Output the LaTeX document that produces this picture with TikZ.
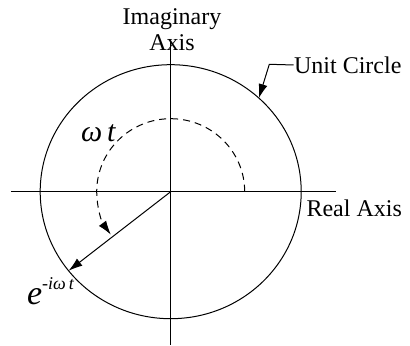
\documentclass[tikz,border=0pt]{standalone}
\usepackage{fontspec}
\setmainfont{Liberation Serif}
\usetikzlibrary{arrows.meta,positioning}

\begin{document}
\begin{tikzpicture}[x=0.5pt,y=0.5pt,
  axis/.style={line width=0.75pt,draw=black},
  unit/.style={line width=0.5pt,draw=black},
  lbl/.style={font=\fontsize{12}{13}\selectfont,align=center,inner sep=0pt},
  sym/.style={font=\fontsize{15}{15}\selectfont\itshape,inner sep=0pt},
  arr/.style={-{Latex[length=7pt,width=4.5pt]},line width=0.5pt}
]
  \useasboundingbox (-170.7,-154.3) rectangle (239.3,191.7);

  % origin and points on the unit circle
  \coordinate (O) at (0,0);
  \coordinate (tip) at (218.5:130.5 and 127);
  \coordinate (onc) at (47.5:130.5 and 127);
  \coordinate (bend) at (98.6,127.4);

  % axes
  \coordinate (xl) at (-159.7,0);
  \coordinate (xr) at (165,0);
  \coordinate (yt) at (0,149.7);
  \coordinate (yb) at (0,-153.3);
  \draw[axis] (xl)--(xr);
  \draw[axis] (yt)--(yb);

  % unit circle
  \draw[unit] (O) ellipse [x radius=130.5,y radius=127];

  % rotating vector and swept angle
  \draw[arr] (O)--(tip);
  \draw[arr,dash pattern=on 3.5pt off 2.5pt] (74,0) arc[start angle=0,end angle=216,x radius=74,y radius=73];

  % labels
  \node[lbl] (imag) at (1.3,161.7) {Imaginary\\Axis};
  \node[lbl] (real) at (183.5,-16.3) {Real Axis};
  \node[lbl,anchor=west] (ucl) at (123,126.7) {Unit Circle};
  \draw[arr] (ucl.west)--(bend)--(onc);
  \node[sym] (wt) at (-72.4,58.7) {ω\,t};
  \node[sym,anchor=base west] (eiwt) at (-144,-113.3)
    {\fontsize{17}{17}\selectfont e\raisebox{7.5pt}{\fontsize{9}{9}\selectfont -iω\,t}};
\end{tikzpicture}
\end{document}
